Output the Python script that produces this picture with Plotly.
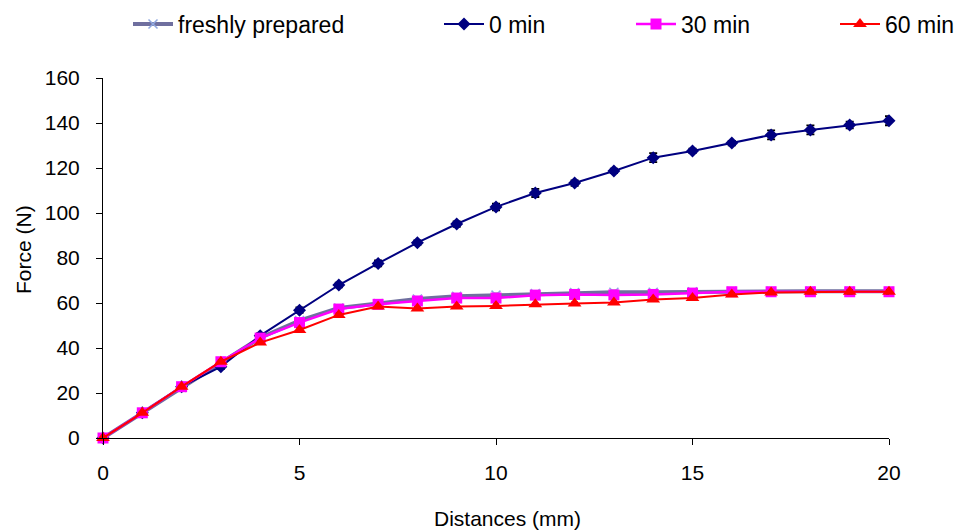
import plotly.graph_objects as go

distance = list(range(0, 21))
fresh = [0, 11.2, 22.5, 33.8, 44.6, 52.2, 57.8, 59.8, 61.8, 63.0, 63.5, 64.2, 64.6, 64.8, 64.8, 65.0, 65.2, 65.2, 65.2, 65.2, 65.2]
min0 = [0, 11.2, 22.8, 31.7, 45.5, 56.8, 68.0, 77.6, 86.8, 95.1, 102.7, 108.9, 113.3, 118.7, 124.6, 127.6, 131.1, 134.7, 136.9, 139.1, 141.0]
min0_err = [0, 0.5, 0.8, 1.0, 1.0, 1.2, 1.0, 1.3, 1.0, 1.2, 1.5, 1.8, 1.2, 1.0, 2.0, 1.0, 1.0, 2.0, 2.0, 1.5, 2.0]
min30 = [0, 11.2, 22.8, 33.9, 44.4, 51.3, 57.3, 59.4, 60.9, 62.2, 62.2, 63.5, 63.8, 63.6, 63.8, 64.4, 65.0, 65.0, 65.0, 65.0, 65.0]
min60 = [0, 11.2, 22.8, 33.9, 42.4, 48.0, 54.7, 58.4, 57.6, 58.4, 58.7, 59.4, 59.8, 60.2, 61.6, 62.2, 63.8, 64.7, 65.0, 65.0, 65.0]
small_err = [0, 0.5, 0.6, 0.8, 0.8, 0.8, 0.8, 0.8, 0.8, 0.8, 0.8, 0.8, 0.8, 0.8, 0.8, 0.8, 0.8, 0.8, 0.8, 1.0, 1.0]

x_ticks = [0, 5, 10, 15, 20]
y_ticks = [0, 20, 40, 60, 80, 100, 120, 140, 160]
x_title = "Distances (mm)"
y_title = "Force (N)"

FONT = "Liberation Sans, Arial, sans-serif"

fig = go.Figure()
fig.add_trace(go.Scatter(
    x=distance, y=fresh, name="freshly prepared", mode="lines+markers",
    line=dict(color="#6f6f9f", width=4),
    marker=dict(symbol="x-thin", size=9, line=dict(color="#8fa8e0", width=1.5)),
    error_y=dict(type="data", array=small_err, color="#222222", thickness=1.2, width=3),
    cliponaxis=False, legend="legend", showlegend=True))
fig.add_trace(go.Scatter(
    x=distance, y=min0, name="0 min", mode="lines+markers",
    line=dict(color="#000080", width=2),
    marker=dict(symbol="diamond", size=10, color="#000080"),
    error_y=dict(type="data", array=min0_err, color="#000000", thickness=1.8, width=4),
    cliponaxis=False, legend="legend2", showlegend=True))
fig.add_trace(go.Scatter(
    x=distance, y=min30, name="30 min", mode="lines+markers",
    line=dict(color="#ff00ff", width=2.5),
    marker=dict(symbol="square", size=11, color="#ff00ff"),
    error_y=dict(type="data", array=small_err, color="#222222", thickness=1.2, width=3),
    cliponaxis=False, legend="legend3", showlegend=True))
fig.add_trace(go.Scatter(
    x=distance, y=min60, name="60 min", mode="lines+markers",
    line=dict(color="#ff0000", width=2),
    marker=dict(symbol="triangle-up", size=12, color="#ff0000"),
    error_y=dict(type="data", array=small_err, color="#222222", thickness=1.2, width=3),
    cliponaxis=False, legend="legend4", showlegend=True))

def leg(xpx):
    return dict(x=xpx / 965, y=1 - 16 / 530, xref="container", yref="container",
                xanchor="left", yanchor="middle", orientation="h",
                font=dict(family=FONT, size=23, color="#000000"),
                bgcolor="rgba(0,0,0,0)", itemwidth=40, visible=True)

# target plot area on the page: x 103..889, y 78..438 (page body adds an 8px offset)
PX0, PX1, PY0, PY1 = 103, 889, 78, 438

fig.update_layout(
    width=965, height=530,
    showlegend=True,
    margin=dict(l=PX0 - 8, r=965 - PX1 + 8, t=PY0 - 8, b=530 - PY1 + 8),
    paper_bgcolor="white", plot_bgcolor="white",
    font=dict(family=FONT, size=21, color="#000000"),
    legend=leg(120), legend2=leg(431), legend3=leg(623), legend4=leg(827),
    xaxis=dict(range=[0, 20], tickvals=x_ticks, ticks="outside", ticklen=6,
               tickcolor="#000000", showline=True, linecolor="#000000", linewidth=1,
               showgrid=False, zeroline=False, automargin=False,
               ticklabelstandoff=10, tickfont=dict(size=21)),
    yaxis=dict(range=[0, 160], tickvals=y_ticks, ticks="outside", ticklen=6,
               tickcolor="#000000", showline=True, linecolor="#000000", linewidth=1,
               showgrid=False, zeroline=False, automargin=False,
               ticklabelstandoff=12, tickfont=dict(size=21)),
    annotations=[
        dict(text=x_title, x=(507 - PX0) / (PX1 - PX0), y=(PY1 - 518) / (PY1 - PY0),
             xref="paper", yref="paper", xanchor="center", yanchor="middle",
             showarrow=False, font=dict(size=21)),
        dict(text=y_title, x=(23 - PX0) / (PX1 - PX0), y=(PY1 - 250) / (PY1 - PY0),
             xref="paper", yref="paper", xanchor="center", yanchor="middle",
             showarrow=False, textangle=-90, font=dict(size=21)),
    ],
)

fig.write_html("out.html")
